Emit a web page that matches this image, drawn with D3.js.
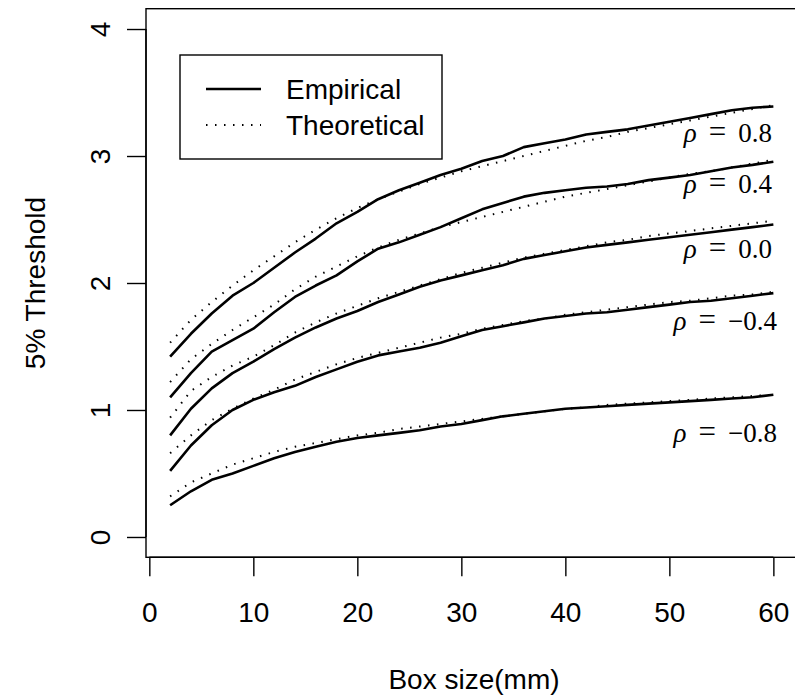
<!DOCTYPE html>
<html>
<head>
<meta charset="utf-8">
<script src="https://cdn.jsdelivr.net/npm/d3@7"></script>
<style>
  html, body { margin: 0; padding: 0; overflow: hidden; background: #fff; }
  svg { display: block; }
  text { font-family: "Liberation Sans", Arial, sans-serif; fill: #000; }
  .rho { font-family: "Liberation Serif", "Times New Roman", serif; }
</style>
</head>
<body>
<div id="chart"></div>
<script>
// box sizes (mm)
const boxSize = [2, 4, 6, 8, 10, 12, 14, 16, 18, 20, 22, 24, 26, 28, 30,
                 32, 34, 36, 38, 40, 42, 44, 46, 48, 50, 52, 54, 56, 58, 60];

// empirical 5% thresholds, one array per rho
const empRho08  = [1.42, 1.60, 1.76, 1.90, 2.00, 2.12, 2.24, 2.35, 2.47, 2.56, 2.66, 2.73, 2.79, 2.85, 2.90,
                   2.96, 3.00, 3.07, 3.10, 3.13, 3.17, 3.19, 3.21, 3.24, 3.27, 3.30, 3.33, 3.36, 3.38, 3.39];
const empRho04  = [1.10, 1.29, 1.46, 1.55, 1.64, 1.77, 1.89, 1.98, 2.06, 2.17, 2.27, 2.32, 2.38, 2.44, 2.51,
                   2.58, 2.63, 2.68, 2.71, 2.73, 2.75, 2.76, 2.78, 2.81, 2.83, 2.85, 2.88, 2.91, 2.93, 2.955];
const empRho00  = [0.80, 1.01, 1.17, 1.29, 1.38, 1.48, 1.57, 1.65, 1.72, 1.78, 1.85, 1.91, 1.97, 2.02, 2.06,
                   2.10, 2.14, 2.19, 2.22, 2.25, 2.28, 2.30, 2.32, 2.34, 2.36, 2.38, 2.40, 2.42, 2.44, 2.46];
const empRhoM04 = [0.52, 0.72, 0.88, 1.00, 1.08, 1.14, 1.19, 1.26, 1.32, 1.38, 1.43, 1.46, 1.49, 1.53, 1.58,
                   1.63, 1.66, 1.69, 1.72, 1.74, 1.76, 1.77, 1.79, 1.81, 1.83, 1.85, 1.86, 1.88, 1.90, 1.92];
const empRhoM08 = [0.25, 0.36, 0.45, 0.50, 0.56, 0.62, 0.67, 0.71, 0.75, 0.78, 0.80, 0.82, 0.84, 0.87, 0.89,
                   0.92, 0.95, 0.97, 0.99, 1.01, 1.02, 1.03, 1.04, 1.05, 1.06, 1.07, 1.08, 1.09, 1.10, 1.12];

// theoretical 5% thresholds
const theoRho08  = [1.53, 1.71, 1.85, 1.98, 2.10, 2.21, 2.32, 2.42, 2.51, 2.59, 2.66, 2.72, 2.78, 2.83, 2.88,
                    2.92, 2.96, 3.00, 3.04, 3.08, 3.12, 3.15, 3.19, 3.22, 3.25, 3.28, 3.31, 3.34, 3.37, 3.40];
const theoRho04  = [1.22, 1.40, 1.52, 1.63, 1.73, 1.83, 1.95, 2.05, 2.13, 2.21, 2.28, 2.34, 2.39, 2.44, 2.48,
                    2.52, 2.56, 2.60, 2.64, 2.68, 2.71, 2.74, 2.77, 2.80, 2.83, 2.86, 2.88, 2.91, 2.94, 2.97];
const theoRho00  = [0.94, 1.15, 1.26, 1.35, 1.42, 1.51, 1.61, 1.69, 1.76, 1.82, 1.88, 1.93, 1.98, 2.03, 2.08,
                    2.12, 2.16, 2.20, 2.23, 2.26, 2.29, 2.32, 2.34, 2.37, 2.39, 2.41, 2.43, 2.45, 2.47, 2.49];
const theoRhoM04 = [0.66, 0.80, 0.92, 1.01, 1.09, 1.16, 1.24, 1.30, 1.36, 1.41, 1.45, 1.49, 1.53, 1.57, 1.60,
                    1.64, 1.67, 1.70, 1.72, 1.75, 1.77, 1.79, 1.81, 1.83, 1.85, 1.86, 1.88, 1.90, 1.91, 1.93];
const theoRhoM08 = [0.32, 0.43, 0.50, 0.57, 0.62, 0.67, 0.71, 0.74, 0.77, 0.80, 0.82, 0.85, 0.87, 0.89, 0.91,
                    0.93, 0.95, 0.97, 0.99, 1.01, 1.02, 1.04, 1.05, 1.06, 1.07, 1.08, 1.09, 1.10, 1.11, 1.12];

const rhoLabels = ["0.8", "0.4", "0.0", "\u22120.4", "\u22120.8"];
const rhoLabelY = [3.11, 2.71, 2.20, 1.63, 0.75];   // baseline of each label (data units)
const xTicks = [0, 10, 20, 30, 40, 50, 60];
const yTicks = [0, 1, 2, 3, 4];

function init() {
    const width = 795, height = 700;
    const svg = d3.select("#chart").append("svg")
        .attr("width", width)
        .attr("height", height);

    // R-style limits: data range padded by 4%; right edge falls just outside the picture
    const x = d3.scaleLinear().domain([-0.32, 62.32]).range([146, 797.5]);
    const y = d3.scaleLinear().domain([-0.16, 4.16]).range([557.3, 8.7]);

    const empirical = [empRho08, empRho04, empRho00, empRhoM04, empRhoM08];
    const theoretical = [theoRho08, theoRho04, theoRho00, theoRhoM04, theoRhoM08];

    const line = d3.line()
        .x((d, i) => x(boxSize[i]))
        .y(d => y(d));

    // theoretical (dotted)
    svg.selectAll("path.theo")
        .data(theoretical)
        .enter().append("path")
        .attr("class", "theo")
        .attr("d", line)
        .attr("fill", "none")
        .attr("stroke", "#000")
        .attr("stroke-width", 2)
        .attr("stroke-dasharray", "1.5,7.5");

    // empirical (solid)
    svg.selectAll("path.emp")
        .data(empirical)
        .enter().append("path")
        .attr("class", "emp")
        .attr("d", line)
        .attr("fill", "none")
        .attr("stroke", "#000")
        .attr("stroke-width", 2.6)
        .attr("stroke-linejoin", "round");

    // plot frame
    svg.append("rect")
        .attr("x", x.range()[0])
        .attr("y", y.range()[1])
        .attr("width", x.range()[1] - x.range()[0])
        .attr("height", y.range()[0] - y.range()[1])
        .attr("fill", "none")
        .attr("stroke", "#000")
        .attr("stroke-width", 1.4);

    // x axis
    const xAxis = svg.append("g")
        .attr("transform", `translate(0,${y.range()[0]})`)
        .call(d3.axisBottom(x).tickValues(xTicks).tickFormat(d3.format("d"))
            .tickSize(19).tickPadding(26).tickSizeOuter(0));
    xAxis.select(".domain")
        .attr("d", `M${x(0)},0H${x(60)}`)
        .attr("stroke-width", 1.4);
    xAxis.selectAll(".tick line").attr("stroke-width", 1.4);
    xAxis.selectAll(".tick text")
        .style("font-size", "28px")
        .style("font-family", "Liberation Sans, Arial, sans-serif");

    // y axis, labels rotated as in R
    const yAxis = svg.append("g")
        .attr("transform", `translate(${x.range()[0]},0)`)
        .call(d3.axisLeft(y).tickValues(yTicks).tickFormat(d3.format("d"))
            .tickSize(19).tickSizeOuter(0));
    yAxis.select(".domain")
        .attr("d", `M0,${y(0)}V${y(4)}`)
        .attr("stroke-width", 1.4);
    yAxis.selectAll(".tick line").attr("stroke-width", 1.4);
    yAxis.selectAll(".tick text")
        .attr("x", null).attr("dy", null)
        .attr("transform", "translate(-46,0) rotate(-90)")
        .attr("text-anchor", "middle")
        .attr("dominant-baseline", "central")
        .style("font-size", "28px")
        .style("font-family", "Liberation Sans, Arial, sans-serif");

    // axis titles
    svg.append("text")
        .attr("x", 474)
        .attr("y", 689)
        .attr("text-anchor", "middle")
        .style("font-size", "28px")
        .text("Box size(mm)");

    svg.append("text")
        .attr("transform", `translate(35,${(y.range()[0] + y.range()[1]) / 2}) rotate(-90)`)
        .attr("text-anchor", "middle")
        .attr("dominant-baseline", "central")
        .style("font-size", "28px")
        .text("5% Threshold");

    // rho labels
    const rho = svg.selectAll("text.rho")
        .data(rhoLabels)
        .enter().append("text")
        .attr("class", "rho")
        .attr("x", (d, i) => i < 3 ? 772 : 777)
        .attr("y", (d, i) => y(rhoLabelY[i]))
        .attr("text-anchor", "end")
        .style("font-size", "27px");
    rho.append("tspan").style("font-style", "italic").text("\u03c1");
    rho.append("tspan").attr("dx", 12).style("font-size", "31px").text("=");
    rho.append("tspan").attr("dx", 12).text(d => d);

    // legend
    const legend = svg.append("g").attr("class", "legend");
    legend.append("rect")
        .attr("x", 180).attr("y", 55)
        .attr("width", 262).attr("height", 104)
        .attr("fill", "#fff")
        .attr("stroke", "#000")
        .attr("stroke-width", 1.4);

    const legendItems = [
        { label: "Empirical", dash: null, w: 2.3 },
        { label: "Theoretical", dash: "1.5,7.5", w: 2 }
    ];
    legendItems.forEach((item, i) => {
        const ly = 89 + i * 36;
        legend.append("line")
            .attr("x1", 206).attr("x2", 261)
            .attr("y1", ly).attr("y2", ly)
            .attr("stroke", "#000")
            .attr("stroke-width", item.w)
            .attr("stroke-dasharray", item.dash);
        legend.append("text")
            .attr("x", 286).attr("y", ly)
            .attr("dominant-baseline", "central")
            .style("font-size", "28px")
            .text(item.label);
    });
}
window.onload = init;
</script>
</body>
</html>
